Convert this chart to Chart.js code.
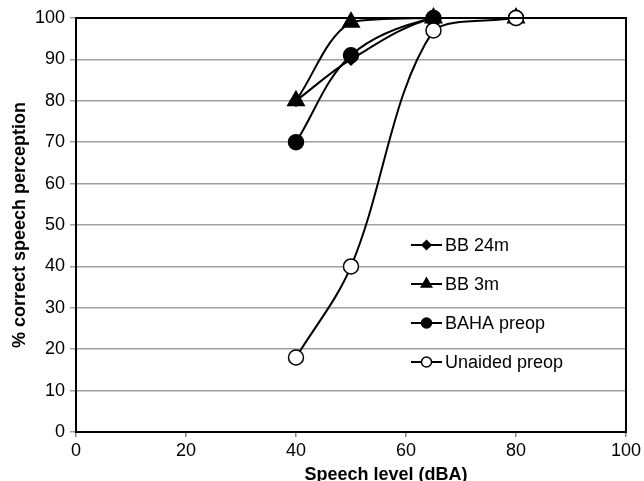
<!DOCTYPE html>
<html>
<head>
<meta charset="utf-8">
<script src="https://cdn.jsdelivr.net/npm/chart.js@4"></script>
<style>
  html, body { margin: 0; padding: 0; background: #fff; }
  #wrap { width: 644px; height: 481px; }
</style>
</head>
<body>
<div id="wrap"><canvas id="grafico"></canvas></div>
<script>
// dados
const niveis = [40, 50, 65, 80]
const bb24m = [80, 90, 100, 100]
const bb3m = [80, 99, 100, 100]
const bahaPreop = [70, 91, 100, 100]
const unaidedPreop = [18, 40, 97, 100]
const nomesSeries = ["BB 24m", "BB 3m", "BAHA preop", "Unaided preop"]
const ticksX = [0, 20, 40, 60, 80, 100]
const tituloX = 'Speech level (dBA)'
const tituloY = '% correct speech perception'

const pontos = valores => valores.map((v, i) => ({ x: niveis[i], y: v }))

const fonte = "'Liberation Sans', Arial, sans-serif"

// moldura preta em volta da area do grafico + titulo do eixo x
const moldura = {
    id: 'moldura',
    afterDatasetsDraw(chart) {
        const { ctx, chartArea: a } = chart
        ctx.save()
        ctx.strokeStyle = '#000'
        ctx.lineWidth = 2
        ctx.strokeRect(a.left, a.top, a.right - a.left, a.bottom - a.top)
        ctx.restore()
    },
    afterDraw(chart) {
        const { ctx } = chart
        ctx.save()
        ctx.fillStyle = '#000'
        ctx.font = `bold 18px ${fonte}`
        ctx.textAlign = 'center'
        ctx.textBaseline = 'alphabetic'
        ctx.fillText(tituloX, 386, 480)
        ctx.restore()
    }
}

// legenda desenhada dentro da area do grafico
const legendaInterna = {
    id: 'legendaInterna',
    afterDraw(chart) {
        const { ctx } = chart
        const x0 = 411, x1 = 442, yIni = 245, passo = 39
        ctx.save()
        chart.data.datasets.forEach((ds, i) => {
            const y = yIni + i * passo
            ctx.strokeStyle = '#000'
            ctx.lineWidth = 2
            ctx.beginPath()
            ctx.moveTo(x0, y)
            ctx.lineTo(x1, y)
            ctx.stroke()
            ctx.fillStyle = ds.pointBackgroundColor
            ctx.strokeStyle = '#000'
            ctx.lineWidth = 1.5
            Chart.helpers.drawPoint(ctx, {
                pointStyle: ds.pointStyle,
                radius: ds.legendRadius,
                borderWidth: 1.5
            }, (x0 + x1) / 2, y)
            ctx.fillStyle = '#000'
            ctx.font = `18px ${fonte}`
            ctx.textBaseline = 'middle'
            ctx.fillText(ds.label, x1 + 3, y + 1)
        })
        ctx.restore()
    }
}

const serie = (label, valores, estilo, raio, fundo, ordem, raioLegenda) => ({
    label: label,
    data: pontos(valores),
    borderColor: '#000',
    borderWidth: 2,
    pointStyle: estilo,
    pointRadius: raio,
    pointHoverRadius: raio,
    pointBackgroundColor: fundo,
    pointBorderColor: '#000',
    pointBorderWidth: 1.5,
    tension: 0.35,
    clip: 12,
    order: ordem,
    legendRadius: raioLegenda
})

let graficoFala = new Chart(
    document.getElementById("grafico"),
    {
        type: "line",
        data: {
            datasets: [
                serie(nomesSeries[0], bb24m, 'rectRot', 5.5, '#000', 4, 4.5),
                serie(nomesSeries[1], bb3m, 'triangle', 9.5, '#000', 3, 6),
                serie(nomesSeries[2], bahaPreop, 'circle', 7.5, '#000', 2, 5),
                serie(nomesSeries[3], unaidedPreop, 'circle', 7.5, '#fff', 1, 5)
            ]
        },
        options: {
            responsive: true,
            maintainAspectRatio: false,
            animation: false,
            layout: {
                padding: { top: 18, right: 16, left: 0, bottom: 0 }
            },
            scales: {
                x: {
                    type: 'linear',
                    min: 0,
                    max: 100,
                    afterBuildTicks: scale => {
                        scale.ticks = ticksX.map(v => ({ value: v }))
                    },
                    afterFit: scale => { scale.height = 49 },
                    grid: {
                        drawOnChartArea: false,
                        drawTicks: true,
                        tickLength: 5,
                        color: '#888',
                        lineWidth: 1.5
                    },
                    border: { display: false },
                    ticks: {
                        color: '#000',
                        padding: 3,
                        maxRotation: 0,
                        font: { family: fonte, size: 18 }
                    }
                },
                y: {
                    min: 0,
                    max: 100,
                    afterFit: scale => { scale.width = 76 },
                    grid: {
                        color: '#a0a0a0',
                        lineWidth: 1.5,
                        drawTicks: true,
                        tickLength: 6
                    },
                    border: { display: false },
                    ticks: {
                        stepSize: 10,
                        color: '#000',
                        padding: 5,
                        font: { family: fonte, size: 18 }
                    },
                    title: {
                        display: true,
                        text: tituloY,
                        color: '#000',
                        padding: { top: 9, bottom: 0 },
                        font: { family: fonte, size: 18, weight: 'bold' }
                    }
                }
            },
            plugins: {
                legend: { display: false },
                tooltip: { enabled: false }
            }
        },
        plugins: [moldura, legendaInterna]
    }
)
</script>
</body>
</html>
